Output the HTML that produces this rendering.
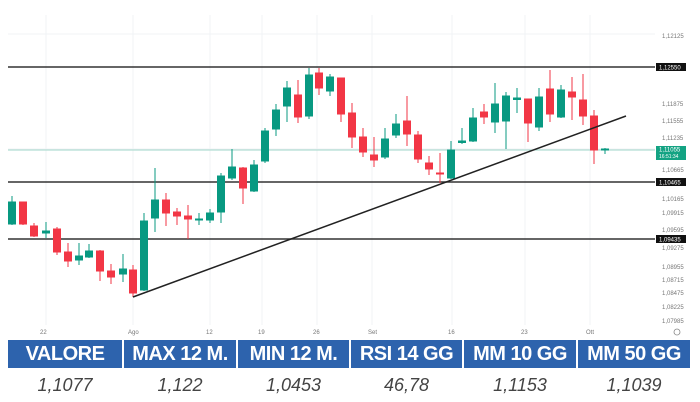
<!DOCTYPE html>
<html><head><meta charset="utf-8"><style>
body{margin:0;width:700px;height:400px;background:#fff;overflow:hidden;font-family:"Liberation Sans",sans-serif}
svg{position:absolute;left:0;top:0}
.t{position:absolute;top:340px;height:28px;background:#2d63ad;color:#fff;font-weight:bold;font-size:20px;text-align:center;line-height:28px;letter-spacing:-0.5px}
.v{position:absolute;top:368px;height:32px;color:#444;font-style:italic;font-size:18px;text-align:center;line-height:34px}
</style></head><body>
<svg width="700" height="340" xmlns="http://www.w3.org/2000/svg">
<g stroke="#f1f3f6" stroke-width="1">
<line x1="8" y1="34" x2="655" y2="34"/><line x1="8" y1="149" x2="655" y2="149"/>
<line x1="46" y1="15" x2="46" y2="325"/><line x1="133" y1="15" x2="133" y2="325"/><line x1="210" y1="15" x2="210" y2="325"/><line x1="262" y1="15" x2="262" y2="325"/><line x1="317" y1="15" x2="317" y2="325"/><line x1="372" y1="15" x2="372" y2="325"/><line x1="452" y1="15" x2="452" y2="325"/><line x1="525" y1="15" x2="525" y2="325"/><line x1="590" y1="15" x2="590" y2="325"/>
</g>
<line x1="8" y1="150" x2="655" y2="150" stroke="#9fd6c8" stroke-width="1"/>
<g stroke="#333" stroke-width="1.5">
<line x1="8" y1="67" x2="655" y2="67"/><line x1="8" y1="182" x2="655" y2="182"/><line x1="8" y1="239" x2="655" y2="239"/>
</g>
<g id="c">
<!-- green -->
<g stroke="#089981" fill="#089981">
<line x1="12" y1="196" x2="12" y2="225"/><rect x="8.5" y="202" width="7" height="22"/>
<line x1="46" y1="222" x2="46" y2="238"/><rect x="42.5" y="231" width="7" height="2"/>
<line x1="79" y1="243" x2="79" y2="265"/><rect x="75.5" y="256" width="7" height="4"/>
<line x1="89" y1="244" x2="89" y2="258"/><rect x="85.5" y="251" width="7" height="6"/>
<line x1="123" y1="254" x2="123" y2="282"/><rect x="119.5" y="269" width="7" height="5"/>
<line x1="144" y1="213" x2="144" y2="291"/><rect x="140.5" y="221" width="7" height="69"/>
<line x1="155" y1="168" x2="155" y2="232"/><rect x="151.5" y="200" width="7" height="18"/>
<line x1="199" y1="213" x2="199" y2="225"/><rect x="195.5" y="219" width="7" height="1"/>
<line x1="210" y1="209" x2="210" y2="223"/><rect x="206.5" y="213" width="7" height="7"/>
<line x1="221" y1="173" x2="221" y2="223"/><rect x="217.5" y="176" width="7" height="36"/>
<line x1="232" y1="149" x2="232" y2="180"/><rect x="228.5" y="167" width="7" height="11"/>
<line x1="254" y1="160" x2="254" y2="192"/><rect x="250.5" y="165" width="7" height="26"/>
<line x1="265" y1="128" x2="265" y2="163"/><rect x="261.5" y="131" width="7" height="30"/>
<line x1="276" y1="104" x2="276" y2="136"/><rect x="272.5" y="110" width="7" height="19"/>
<line x1="287" y1="81" x2="287" y2="122"/><rect x="283.5" y="88" width="7" height="18"/>
<line x1="309" y1="68" x2="309" y2="119"/><rect x="305.5" y="75" width="7" height="41"/>
<line x1="330" y1="74" x2="330" y2="96"/><rect x="326.5" y="77" width="7" height="14"/>
<line x1="385" y1="128" x2="385" y2="159"/><rect x="381.5" y="139" width="7" height="18"/>
<line x1="396" y1="114" x2="396" y2="138"/><rect x="392.5" y="124" width="7" height="11"/>
<line x1="451" y1="141" x2="451" y2="179"/><rect x="447.5" y="150" width="7" height="28"/>
<line x1="462" y1="128" x2="462" y2="144"/><rect x="458.5" y="141" width="7" height="1.5"/>
<line x1="473" y1="108" x2="473" y2="142"/><rect x="469.5" y="118" width="7" height="23"/>
<line x1="495" y1="83" x2="495" y2="133"/><rect x="491.5" y="104" width="7" height="18"/>
<line x1="506" y1="92" x2="506" y2="149"/><rect x="502.5" y="96" width="7" height="25"/>
<line x1="517" y1="88" x2="517" y2="113"/><rect x="513.5" y="98" width="7" height="1.5"/>
<line x1="539" y1="88" x2="539" y2="131"/><rect x="535.5" y="97" width="7" height="30"/>
<line x1="561" y1="85" x2="561" y2="118"/><rect x="557.5" y="90" width="7" height="27"/>
<line x1="605" y1="148" x2="605" y2="154"/><rect x="601.5" y="149" width="7" height="1"/>
</g>
<g stroke="#f23645" fill="#f23645">
<line x1="23" y1="202" x2="23" y2="225"/><rect x="19.5" y="202" width="7" height="22"/>
<line x1="34" y1="223" x2="34" y2="237"/><rect x="30.5" y="226" width="7" height="10"/>
<line x1="57" y1="227" x2="57" y2="255"/><rect x="53.5" y="229" width="7" height="23"/>
<line x1="68" y1="243" x2="68" y2="267"/><rect x="64.5" y="252" width="7" height="9"/>
<line x1="100" y1="250" x2="100" y2="281"/><rect x="96.5" y="251" width="7" height="20"/>
<line x1="111" y1="264" x2="111" y2="284"/><rect x="107.5" y="271" width="7" height="6"/>
<line x1="133" y1="265" x2="133" y2="297"/><rect x="129.5" y="270" width="7" height="23"/>
<line x1="166" y1="193" x2="166" y2="226"/><rect x="162.5" y="200" width="7" height="13"/>
<line x1="177" y1="208" x2="177" y2="225"/><rect x="173.5" y="212" width="7" height="4"/>
<line x1="188" y1="205" x2="188" y2="239"/><rect x="184.5" y="216" width="7" height="3"/>
<line x1="243" y1="167" x2="243" y2="204"/><rect x="239.5" y="168" width="7" height="20"/>
<line x1="298" y1="80" x2="298" y2="123"/><rect x="294.5" y="95" width="7" height="22"/>
<line x1="319" y1="68" x2="319" y2="95"/><rect x="315.5" y="73" width="7" height="15"/>
<line x1="341" y1="78" x2="341" y2="122"/><rect x="337.5" y="78" width="7" height="36"/>
<line x1="352" y1="103" x2="352" y2="148"/><rect x="348.5" y="113" width="7" height="24"/>
<line x1="363" y1="128" x2="363" y2="157"/><rect x="359.5" y="137" width="7" height="15"/>
<line x1="374" y1="137" x2="374" y2="167"/><rect x="370.5" y="155" width="7" height="5"/>
<line x1="407" y1="96" x2="407" y2="146"/><rect x="403.5" y="121" width="7" height="13"/>
<line x1="418" y1="131" x2="418" y2="163"/><rect x="414.5" y="135" width="7" height="24"/>
<line x1="429" y1="156" x2="429" y2="175"/><rect x="425.5" y="163" width="7" height="6"/>
<line x1="440" y1="153" x2="440" y2="183"/><rect x="436.5" y="173" width="7" height="1"/>
<line x1="484" y1="104" x2="484" y2="124"/><rect x="480.5" y="112" width="7" height="5"/>
<line x1="528" y1="99" x2="528" y2="142"/><rect x="524.5" y="99" width="7" height="24"/>
<line x1="550" y1="70" x2="550" y2="122"/><rect x="546.5" y="89" width="7" height="25"/>
<line x1="572" y1="77" x2="572" y2="120"/><rect x="568.5" y="92" width="7" height="5"/>
<line x1="583" y1="74" x2="583" y2="125"/><rect x="579.5" y="100" width="7" height="16"/>
<line x1="594" y1="110" x2="594" y2="164"/><rect x="590.5" y="116" width="7" height="34"/>
</g>
</g>
<line x1="133" y1="297" x2="626" y2="116" stroke="#222" stroke-width="1.5"/>
<g font-size="6" fill="#777" font-family="Liberation Sans, sans-serif">
<text x="662" y="38">1,12125</text><text x="662" y="106">1,11875</text><text x="662" y="123">1,11555</text><text x="662" y="140">1,11235</text><text x="662" y="172">1,10665</text><text x="662" y="201">1,10165</text><text x="662" y="215">1,09915</text><text x="662" y="232">1,09595</text><text x="662" y="250">1,09275</text><text x="662" y="269">1,08955</text><text x="662" y="282">1,08715</text><text x="662" y="295">1,08475</text><text x="662" y="309">1,08225</text><text x="662" y="323">1,07985</text>
<text x="40" y="334">22</text><text x="128" y="334">Ago</text><text x="206" y="334">12</text><text x="258" y="334">19</text><text x="313" y="334">26</text><text x="368" y="334">Set</text><text x="448" y="334">16</text><text x="521" y="334">23</text><text x="586" y="334">Ott</text>
</g>
<circle cx="677" cy="332" r="3" fill="none" stroke="#888" stroke-width="0.8"/>
<g font-size="6" fill="#fff" font-family="Liberation Sans, sans-serif">
<rect x="656" y="63" width="30" height="8" fill="#111"/><text x="659" y="69.5">1,12550</text>
<rect x="656" y="178" width="30" height="8" fill="#111"/><text x="659" y="184.5">1,10465</text>
<rect x="656" y="235" width="30" height="8" fill="#111"/><text x="659" y="241.5">1,09435</text>
<rect x="656" y="146" width="30" height="14" fill="#13a383"/><text x="659" y="151.5">1,11055</text><text x="659" y="158" font-size="5">16:51:34</text>
</g>
</svg>
<div class="t" style="left:8px;width:114px">VALORE</div>
<div class="t" style="left:124px;width:112px">MAX 12 M.</div>
<div class="t" style="left:238px;width:111px">MIN 12 M.</div>
<div class="t" style="left:351px;width:111px">RSI 14 GG</div>
<div class="t" style="left:464px;width:112px">MM 10 GG</div>
<div class="t" style="left:578px;width:112px">MM 50 GG</div>
<div class="v" style="left:8px;width:114px">1,1077</div>
<div class="v" style="left:124px;width:112px">1,122</div>
<div class="v" style="left:238px;width:111px">1,0453</div>
<div class="v" style="left:351px;width:111px">46,78</div>
<div class="v" style="left:464px;width:112px">1,1153</div>
<div class="v" style="left:578px;width:112px">1,1039</div>
</body></html>
